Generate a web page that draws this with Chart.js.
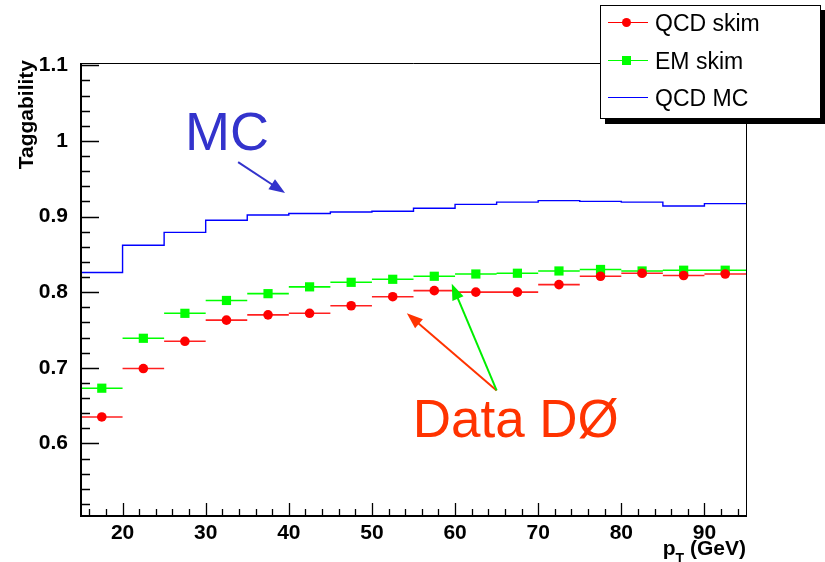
<!DOCTYPE html>
<html>
<head>
<meta charset="utf-8">
<script src="https://cdn.jsdelivr.net/npm/chart.js@4/dist/chart.umd.min.js"></script>
<style>
  html, body { margin: 0; padding: 0; background: #fff; }
  #wrap { position: relative; width: 825px; height: 562px; overflow: hidden; }
  #plot { position: absolute; left: 0; top: 0; }
  #legend {
    position: absolute; left: 600px; top: 5px; width: 219px; height: 112px;
    border: 1px solid #000; background: #fff; box-shadow: 5px 5px 0 #000;
    font-family: "Liberation Sans", Arial, sans-serif; font-size: 23px;
  }
  .row { position: absolute; left: 0; width: 100%; height: 30px; }
  .ln { position: absolute; left: 7px; width: 40px; top: 14px; height: 0; border-top: 1.5px solid; }
  .mk { position: absolute; left: 21px; top: 10px; width: 9px; height: 9px; }
  .tx { position: absolute; left: 54px; top: 0; line-height: 30px; white-space: nowrap; }
</style>
</head>
<body>
<div id="wrap">
  <canvas id="plot" width="825" height="562"></canvas>
  <div id="legend">
    <div class="row" style="top:2px">
      <span class="ln" style="border-color:#ff0000"></span>
      <span class="mk" style="background:#ff0000;border-radius:50%"></span>
      <span class="tx">QCD skim</span>
    </div>
    <div class="row" style="top:40px">
      <span class="ln" style="border-color:#00ff00"></span>
      <span class="mk" style="background:#00ff00"></span>
      <span class="tx">EM skim</span>
    </div>
    <div class="row" style="top:77px">
      <span class="ln" style="border-top:1px solid #0000ff"></span>
      <span class="tx">QCD MC</span>
    </div>
  </div>
</div>
<script>
// bin edges in pT (GeV), 5 GeV wide
const ptEdges = [15, 20, 25, 30, 35, 40, 45, 50, 55, 60, 65, 70, 75, 80, 85, 90, 95];

const qcdSkim = [0.635, 0.699, 0.735, 0.763, 0.770, 0.772, 0.782, 0.794,
                 0.802, 0.800, 0.800, 0.810, 0.821, 0.825, 0.822, 0.824];
const emSkim  = [0.673, 0.739, 0.772, 0.789, 0.798, 0.807, 0.813, 0.817,
                 0.821, 0.824, 0.825, 0.828, 0.830, 0.828, 0.829, 0.829];
const qcdMC   = [0.826, 0.862, 0.879, 0.895, 0.902, 0.904, 0.906, 0.907,
                 0.911, 0.916, 0.919, 0.921, 0.920, 0.919, 0.914, 0.917];

const xTicks = [20, 30, 40, 50, 60, 70, 80, 90];
const yTicks = [0.6, 0.7, 0.8, 0.9, 1.0, 1.1];

const FONT = '"Liberation Sans", Arial, Helvetica, sans-serif';

const centers = ptEdges.slice(0, -1).map((lo, i) => (lo + ptEdges[i + 1]) / 2);

function markers(vals) {
  return vals.map((v, i) => ({ x: centers[i], y: v }));
}

// horizontal bars over each bin, broken by null points
function binBars(vals) {
  const out = [];
  vals.forEach((v, i) => {
    out.push({ x: ptEdges[i], y: v }, { x: ptEdges[i + 1], y: v }, { x: ptEdges[i + 1], y: null });
  });
  return out;
}

function histo(vals) {
  const pts = vals.map((v, i) => ({ x: ptEdges[i], y: v }));
  pts.push({ x: ptEdges[ptEdges.length - 1], y: vals[vals.length - 1] });
  return pts;
}

// annotation anchors, in data units
const mcLabel = { x: 27.5, y: 0.988 };
const mcArrow = { from: [33.9, 0.972], to: [39.55, 0.931] };
const dataLabel = { x: 54.9, y: 0.608 };
const dataTail = [65.0, 0.670];
const dataTipRed = [54.2, 0.772];
const dataTipGreen = [59.6, 0.811];

function arrow(ctx, x0, y0, x1, y1, color) {
  const ang = Math.atan2(y1 - y0, x1 - x0);
  const len = 16, half = 6;
  ctx.strokeStyle = color;
  ctx.fillStyle = color;
  ctx.lineWidth = 2;
  ctx.beginPath();
  ctx.moveTo(x0, y0);
  ctx.lineTo(x1 - Math.cos(ang) * len * 0.8, y1 - Math.sin(ang) * len * 0.8);
  ctx.stroke();
  ctx.beginPath();
  ctx.moveTo(x1, y1);
  ctx.lineTo(x1 - Math.cos(ang) * len - Math.sin(ang) * half, y1 - Math.sin(ang) * len + Math.cos(ang) * half);
  ctx.lineTo(x1 - Math.cos(ang) * len + Math.sin(ang) * half, y1 - Math.sin(ang) * len - Math.cos(ang) * half);
  ctx.closePath();
  ctx.fill();
}

const rootFrame = {
  id: 'rootFrame',
  afterDraw(chart) {
    const { ctx, chartArea: a, scales: { x, y } } = chart;
    ctx.save();

    // frame
    ctx.strokeStyle = '#000';
    ctx.lineWidth = 1;
    ctx.beginPath();
    ctx.moveTo(a.left, a.top + 0.5);
    ctx.lineTo(a.right + 0.5, a.top + 0.5);
    ctx.lineTo(a.right + 0.5, a.bottom);
    ctx.stroke();
    ctx.lineWidth = 2;
    ctx.beginPath();
    ctx.moveTo(a.left, a.top);
    ctx.lineTo(a.left, a.bottom);
    ctx.lineTo(a.right + 1, a.bottom);
    ctx.stroke();

    // ticks
    ctx.lineWidth = 1.3;
    ctx.beginPath();
    for (let v = 16; v < 95; v += 2) {
      const px = Math.round(x.getPixelForValue(v)) + 0.5;
      const len = v % 10 === 0 ? 13 : 7;
      ctx.moveTo(px, a.bottom);
      ctx.lineTo(px, a.bottom - len);
    }
    for (let k = 26; k <= 55; k++) {
      const v = k / 50;
      const py = Math.round(y.getPixelForValue(v)) + 0.5;
      const len = k % 5 === 0 ? 18 : 9;
      ctx.moveTo(a.left, py);
      ctx.lineTo(a.left + len, py);
    }
    ctx.stroke();

    // axis titles
    ctx.fillStyle = '#000';
    ctx.font = 'bold 21px ' + FONT;
    ctx.save();
    ctx.translate(33, a.top - 3);
    ctx.rotate(-Math.PI / 2);
    ctx.textAlign = 'right';
    ctx.textBaseline = 'alphabetic';
    ctx.fillText('Taggability', 0, 0);
    ctx.restore();

    ctx.font = 'bold 21px ' + FONT;
    ctx.textAlign = 'right';
    ctx.textBaseline = 'alphabetic';
    const tail = ' (GeV)';
    const wTail = ctx.measureText(tail).width;
    ctx.fillText(tail, a.right, 555);
    ctx.font = 'bold 14px ' + FONT;
    const wT = ctx.measureText('T').width;
    ctx.fillText('T', a.right - wTail, 563);
    ctx.font = 'bold 21px ' + FONT;
    ctx.fillText('p', a.right - wTail - wT, 555);

    // annotations
    ctx.textAlign = 'left';
    ctx.font = '54px ' + FONT;
    ctx.fillStyle = '#3333cc';
    ctx.fillText('MC', x.getPixelForValue(mcLabel.x), y.getPixelForValue(mcLabel.y));
    arrow(ctx, x.getPixelForValue(mcArrow.from[0]), y.getPixelForValue(mcArrow.from[1]),
          x.getPixelForValue(mcArrow.to[0]), y.getPixelForValue(mcArrow.to[1]), '#3333cc');

    ctx.font = '53px ' + FONT;
    ctx.fillStyle = '#ff3300';
    ctx.fillText('Data D\u00d8', x.getPixelForValue(dataLabel.x), y.getPixelForValue(dataLabel.y));
    const tx = x.getPixelForValue(dataTail[0]), ty = y.getPixelForValue(dataTail[1]);
    arrow(ctx, tx, ty, x.getPixelForValue(dataTipRed[0]), y.getPixelForValue(dataTipRed[1]), '#ff3300');
    arrow(ctx, tx, ty, x.getPixelForValue(dataTipGreen[0]), y.getPixelForValue(dataTipGreen[1]), '#00ee00');

    ctx.restore();
  }
};

new Chart(document.getElementById('plot'), {
  type: 'scatter',
  data: {
    datasets: [
      { label: 'QCD skim', data: markers(qcdSkim), showLine: false,
        pointStyle: 'circle', pointRadius: 4.8, pointBackgroundColor: '#ff0000', pointBorderWidth: 0 },
      { label: 'QCD skim bins', data: binBars(qcdSkim), showLine: true, spanGaps: false,
        borderColor: '#ff2020', borderWidth: 1.6, pointRadius: 0 },
      { label: 'EM skim', data: markers(emSkim), showLine: false,
        pointStyle: 'rect', pointRadius: 6.5, pointBackgroundColor: '#00ff00', pointBorderWidth: 0 },
      { label: 'EM skim bins', data: binBars(emSkim), showLine: true, spanGaps: false,
        borderColor: '#00ff00', borderWidth: 1.6, pointRadius: 0 },
      { label: 'QCD MC', data: histo(qcdMC), showLine: true, stepped: true,
        borderColor: '#0000ff', borderWidth: 1.4, pointRadius: 0 }
    ]
  },
  options: {
    responsive: false,
    animation: false,
    devicePixelRatio: 1,
    layout: { padding: { top: 63, right: 79, left: 0, bottom: 0 } },
    plugins: { legend: { display: false }, tooltip: { enabled: false } },
    scales: {
      x: {
        type: 'linear', min: 15, max: 95,
        grid: { display: false }, border: { display: false },
        afterFit: s => { s.height = 46; },
        afterBuildTicks: s => { s.ticks = xTicks.map(v => ({ value: v })); },
        ticks: { color: '#000', padding: -3, maxRotation: 0,
                 font: { family: FONT, size: 21, weight: 'bold' } }
      },
      y: {
        type: 'linear', min: 0.504, max: 1.103,
        grid: { display: false }, border: { display: false },
        afterFit: s => { s.width = 81; },
        afterBuildTicks: s => { s.ticks = yTicks.map(v => ({ value: v })); },
        ticks: { color: '#000', padding: 5,
                 font: { family: FONT, size: 21, weight: 'bold' },
                 callback: v => String(+v.toFixed(2)) }
      }
    }
  },
  plugins: [rootFrame]
});
</script>
</body>
</html>
